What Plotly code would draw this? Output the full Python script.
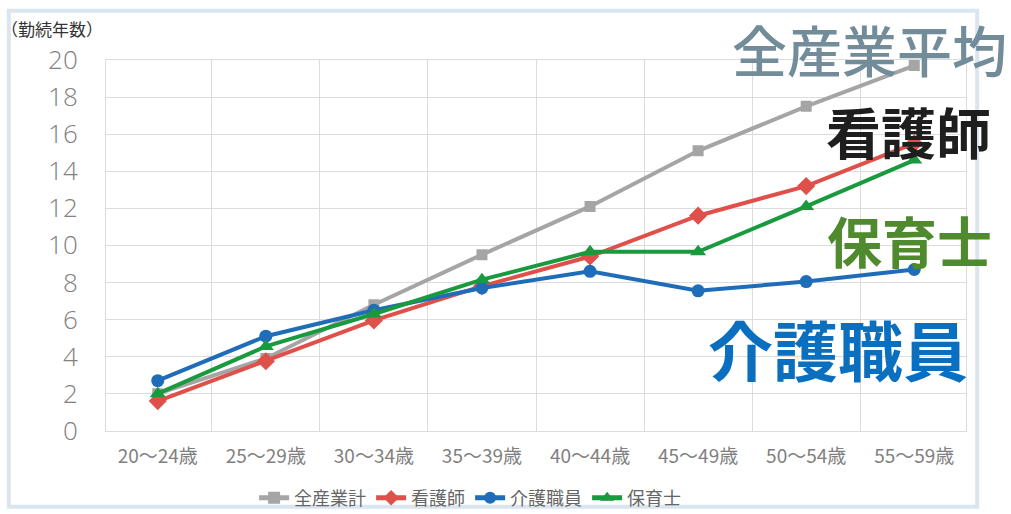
import plotly.graph_objects as go

categories = ["20～24歳", "25～29歳", "30～34歳", "35～39歳", "40～44歳", "45～49歳", "50～54歳", "55～59歳"]
all_industry = [2.0, 3.9, 6.8, 9.5, 12.1, 15.1, 17.5, 19.7]
nurse = [1.6, 3.75, 5.95, 7.8, 9.4, 11.6, 13.2, 15.5]
care_worker = [2.7, 5.1, 6.5, 7.7, 8.6, 7.55, 8.05, 8.7]
childcare = [2.0, 4.55, 6.3, 8.15, 9.65, 9.65, 12.1, 14.6]
y_ticks = [0, 2, 4, 6, 8, 10, 12, 14, 16, 18, 20]

FONT = "Noto Sans CJK JP"

fig = go.Figure()
series = [
    ("全産業計", all_industry, "#a5a5a5", "square", 11),
    ("看護師", nurse, "#e0504a", "diamond", 14),
    ("介護職員", care_worker, "#1f6db8", "circle", 13),
    ("保育士", childcare, "#1a9a3e", "triangle-up", 14),
]
for name, vals, color, sym, size in series:
    fig.add_trace(go.Scatter(
        x=categories, y=vals, name=name, mode="lines+markers",
        line=dict(color=color, width=4),
        marker=dict(symbol=sym, size=size, color=color),
    ))

fig.update_layout(
    width=1011, height=514,
    margin=dict(l=106, r=45, t=60, b=81),
    paper_bgcolor="white", plot_bgcolor="white",
    font=dict(family=FONT, color="#777777"),
    showlegend=True,
    legend=dict(orientation="h", xref="container", yref="container",
                x=0.465, xanchor="center", y=0.031, yanchor="middle",
                font=dict(size=18, color="#666666"), itemwidth=30,
                itemsizing="constant", bgcolor="rgba(0,0,0,0)",
                tracegroupgap=0),
    xaxis=dict(type="category", tickson="boundaries", showgrid=True,
               gridcolor="#dcdcdc", gridwidth=1, ticks="",
               showline=True, linecolor="#dcdcdc", mirror=True,
               tickfont=dict(size=19, color="#808080"), ticklabelstandoff=8),
    yaxis=dict(range=[0, 20], tickvals=y_ticks, showgrid=True,
               gridcolor="#dcdcdc", gridwidth=1, zeroline=False,
               showline=True, linecolor="#dcdcdc", mirror=True,
               tickfont=dict(size=26, color="#808080", family="Open Sans", weight=300),
               ticklabelstandoff=22),
    shapes=[dict(type="rect", xref="paper", yref="paper",
                 x0=-0.113, x1=1.013, y0=-0.205, y1=1.133,
                 line=dict(color="#dbe5ee", width=4), layer="below")],
    annotations=[
        dict(text="（勤続年数）", xref="paper", yref="paper", x=-0.125, y=1.086,
             xanchor="left", yanchor="middle", showarrow=False,
             font=dict(size=17, color="#333333")),
        dict(text="全産業平均", xref="paper", yref="paper", x=0.888, y=1.032,
             xanchor="center", yanchor="middle", showarrow=False,
             font=dict(size=55, color="#728c9a", family=FONT, weight=500)),
        dict(text="<b>看護師</b>", xref="paper", yref="paper", x=0.933, y=0.812,
             xanchor="center", yanchor="middle", showarrow=False,
             font=dict(size=55, color="#1e1e1e", family=FONT)),
        dict(text="<b>保育士</b>", xref="paper", yref="paper", x=0.934, y=0.517,
             xanchor="center", yanchor="middle", showarrow=False,
             font=dict(size=55, color="#4f8a2f", family=FONT)),
        dict(text="<b>介護職員</b>", xref="paper", yref="paper", x=0.851, y=0.222,
             xanchor="center", yanchor="middle", showarrow=False,
             font=dict(size=65, color="#0b6fbf", family=FONT)),
    ],
)

fig.write_html("out.html")
